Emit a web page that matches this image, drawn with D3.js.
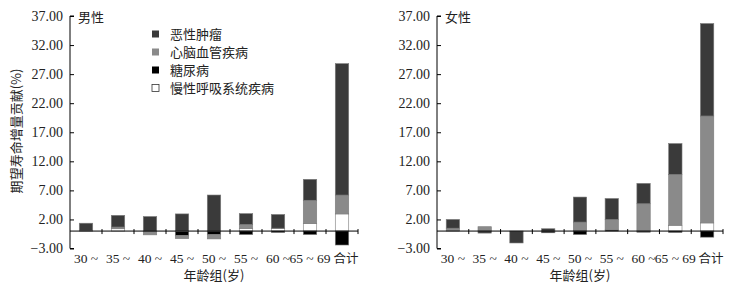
<!DOCTYPE html>
<html>
<head>
<meta charset="utf-8">
<script src="https://cdn.jsdelivr.net/npm/d3@7"></script>
<style>
  body { margin: 0; background: #fff; }
  svg text { fill: #222; }
  .num { font-family: "Liberation Serif", "DejaVu Serif", serif; font-size: 14px; }
  .cjk { font-family: "Noto Sans CJK SC", sans-serif; font-size: 13px; }
</style>
</head>
<body>
<div id="chart"></div>
<script>
const categories = ['30 ~', '35 ~', '40 ~', '45 ~', '50 ~', '55 ~', '60 ~', '65 ~ 69', '合计'];
const seriesNames = ['慢性呼吸系统疾病', '糖尿病', '心脑血管疾病', '恶性肿瘤'];
const legendOrder = ['恶性肿瘤', '心脑血管疾病', '糖尿病', '慢性呼吸系统疾病'];
const yTicks = [-3, 2, 7, 12, 17, 22, 27, 32, 37];

// 男性
const maleCancer = [1.3, 2.0, 2.5, 2.95, 6.2, 1.85, 2.35, 3.6, 22.6];
const maleCardio = [0.05, 0.3, -0.65, -0.55, -0.75, 0.7, 0.05, 4.0, 3.25];
const maleDiabetes = [0, 0, 0, -0.65, -0.6, -0.6, -0.25, -0.6, -2.4];
const maleRespiratory = [0, 0.4, 0, -0.1, 0, 0.45, 0.45, 1.3, 2.95];

// 女性
const femaleCancer = [1.5, -0.35, -2.05, 0.4, 4.3, 3.6, 3.5, 5.3, 15.9];
const femaleCardio = [0.45, 0.75, 0, 0, 1.45, 1.8, 4.7, 8.75, 18.4];
const femaleDiabetes = [0, 0, 0, -0.3, -0.6, 0.2, -0.2, -0.25, -1.05];
const femaleRespiratory = [0.05, 0, 0, 0, 0.1, 0, 0, 1.0, 1.4];

const colors = {
  '恶性肿瘤': '#3a3a3a',
  '心脑血管疾病': '#8a8a8a',
  '糖尿病': '#000000',
  '慢性呼吸系统疾病': '#ffffff'
};

const svg = d3.select('#chart').append('svg')
  .attr('width', 731)
  .attr('height', 286);

function buildRows(cancer, cardio, diabetes, resp) {
  return categories.map((c, i) => ({
    cat: c,
    '恶性肿瘤': cancer[i],
    '心脑血管疾病': cardio[i],
    '糖尿病': diabetes[i],
    '慢性呼吸系统疾病': resp[i]
  }));
}

function drawPanel(opts) {
  const g = svg.append('g');
  const x = d3.scaleBand().domain(categories).range([opts.left, opts.right]);
  const y = d3.scaleLinear().domain([-3, 37]).range([248.5, 16]);

  const stacked = d3.stack()
    .keys(seriesNames)
    .offset(d3.stackOffsetDiverging)(opts.rows);

  const barW = x.bandwidth() * 0.42;
  g.selectAll('g.layer')
    .data(stacked)
    .join('g')
    .attr('class', 'layer')
    .attr('fill', d => colors[d.key])
    .selectAll('rect')
    .data(d => d.filter(p => p[1] - p[0] !== 0))
    .join('rect')
    .attr('x', d => x(d.data.cat) + (x.bandwidth() - barW) / 2)
    .attr('y', d => y(Math.max(d[0], d[1])))
    .attr('width', barW)
    .attr('height', d => Math.abs(y(d[0]) - y(d[1])))
    .attr('stroke', '#7a7a7a')
    .attr('stroke-width', 0.6);

  // y axis, ticks inward
  const yAxis = d3.axisRight(y).tickValues(yTicks).tickSize(4).tickFormat('');
  g.append('g')
    .attr('transform', `translate(${opts.left},0)`)
    .call(yAxis)
    .call(a => a.select('.domain').attr('d', `M4,${y(37)}H0V${y(-3)}H4`));
  g.selectAll('text.ytick')
    .data(yTicks)
    .join('text')
    .attr('class', 'num ytick')
    .attr('x', opts.left - 7)
    .attr('y', d => y(d))
    .attr('dy', '0.35em')
    .attr('text-anchor', 'end')
    .text(d => (d < 0 ? '\u2212' + Math.abs(d).toFixed(2) : d.toFixed(2)));

  // x axis at zero
  const y0 = y(0);
  g.append('line')
    .attr('x1', opts.left).attr('x2', opts.right)
    .attr('y1', y0).attr('y2', y0)
    .attr('stroke', '#000').attr('stroke-width', 1);
  g.selectAll('line.xtick')
    .data(categories.slice(1))
    .join('line')
    .attr('class', 'xtick')
    .attr('x1', d => x(d)).attr('x2', d => x(d))
    .attr('y1', y0 - 2).attr('y2', y0 + 3)
    .attr('stroke', '#000');
  g.append('line')
    .attr('x1', opts.right).attr('x2', opts.right)
    .attr('y1', y0 - 2).attr('y2', y0 + 3)
    .attr('stroke', '#000');

  g.selectAll('text.xlab')
    .data(categories)
    .join('text')
    .attr('class', d => (d === '合计' ? 'cjk xlab' : 'num xlab'))
    .style('font-size', d => (d === '合计' ? '12.5px' : '13.5px'))
    .attr('x', d => x(d) + x.bandwidth() / 2 + (d === '合计' ? 4 : 0))
    .attr('y', 263)
    .attr('text-anchor', 'middle')
    .text(d => d);

  g.append('text')
    .attr('class', 'cjk')
    .attr('x', (opts.left + opts.right) / 2)
    .attr('y', 280)
    .attr('text-anchor', 'middle')
    .text('年龄组(岁)');

  g.append('text')
    .attr('class', 'cjk')
    .attr('x', opts.left + 8)
    .attr('y', 22)
    .text(opts.title);
}

drawPanel({
  left: 70, right: 358, title: '男性',
  rows: buildRows(maleCancer, maleCardio, maleDiabetes, maleRespiratory)
});
drawPanel({
  left: 437, right: 723, title: '女性',
  rows: buildRows(femaleCancer, femaleCardio, femaleDiabetes, femaleRespiratory)
});

// y axis title
svg.append('text')
  .attr('class', 'cjk')
  .attr('transform', 'translate(21,131) rotate(-90)')
  .attr('text-anchor', 'middle')
  .text('期望寿命增量贡献(%)');

// legend
const legend = svg.append('g').attr('transform', 'translate(152,34)');
const item = legend.selectAll('g')
  .data(legendOrder)
  .join('g')
  .attr('transform', (d, i) => `translate(0,${i * 18})`);
item.append('rect')
  .attr('x', 0).attr('y', -3.5)
  .attr('width', 7).attr('height', 7)
  .attr('fill', d => colors[d])
  .attr('stroke', d => (d === '慢性呼吸系统疾病' ? '#333' : 'none'))
  .attr('stroke-width', 0.8);
item.append('text')
  .attr('class', 'cjk')
  .attr('x', 18)
  .attr('dy', '0.35em')
  .text(d => d);
</script>
</body>
</html>
